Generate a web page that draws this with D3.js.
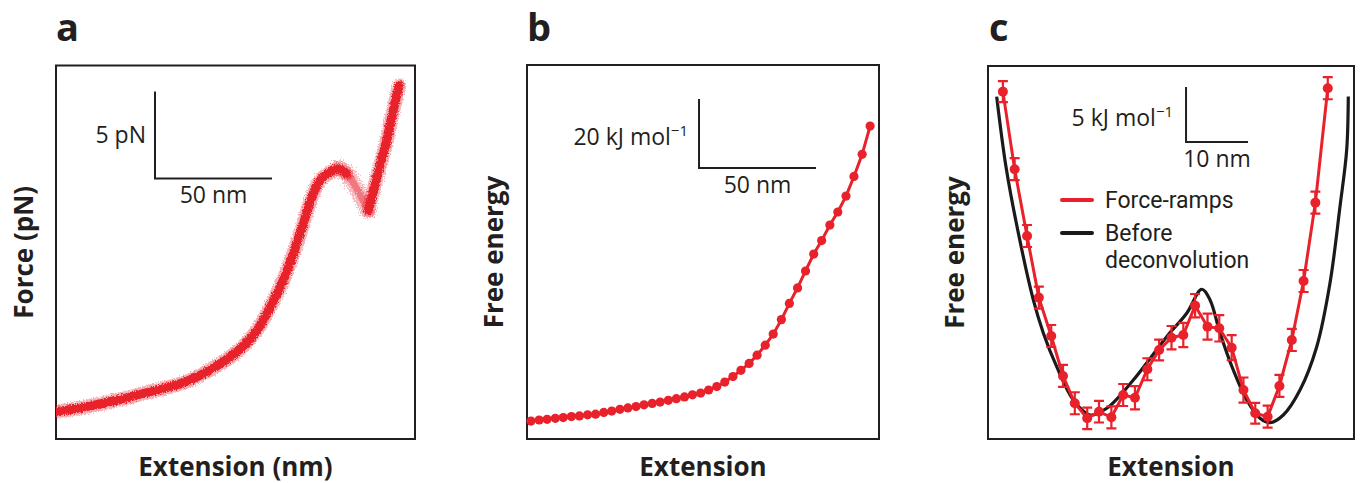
<!DOCTYPE html>
<html>
<head>
<meta charset="utf-8">
<script src="https://cdn.jsdelivr.net/npm/d3@7"></script>
<style>
  body { margin: 0; background: #fff; }
  svg text { font-family: "Open Sans", sans-serif; fill: #231f20; }
  svg text.legend { font-family: Roboto, "Open Sans", sans-serif; }
</style>
</head>
<body>
<div id="figure"></div>
<script>
// a: force-extension trace (nm, pN)
const extA   = [0.4, 11.5, 26.1, 40.2, 55.1, 67.9, 78.6, 85.9, 91.5, 97.1, 101.4, 105.7, 109.3, 112.8, 117.1, 120.6, 124.2, 128.2, 131.2, 133.5, 137.1, 141.3, 143.6, 146.6];
const forceA = [1.58, 1.82, 2.24, 2.72, 3.28, 4.14, 5.17, 6.26, 7.60, 9.14, 10.67, 12.40, 13.93, 14.89, 15.36, 15.56, 15.27, 14.48, 13.74, 13.16, 15.07, 17.18, 18.62, 20.34];
const peakIdx = 16, dipIdx = 19;   // hopping region lies between these points

// b: free energy profile (nm, kJ/mol)
const extB = [1.7, 5.2, 8.6, 12.1, 15.5, 19.0, 22.4, 25.9, 29.3, 32.8, 36.2, 39.7, 43.1, 46.6, 50.0, 53.5, 56.9, 60.4, 63.8, 67.3, 70.7, 74.2, 77.6, 81.1, 84.5, 88.0, 91.4, 94.9, 98.3, 101.8, 105.2, 108.7, 112.1, 115.6, 119.0, 122.5, 125.9, 129.4, 132.8, 136.3, 139.7, 143.2, 146.6];
const energyB = [5.2, 5.5, 5.7, 6.0, 6.2, 6.5, 6.7, 7.0, 7.2, 7.7, 8.1, 8.6, 9.0, 9.4, 9.9, 10.3, 10.7, 11.2, 11.7, 12.2, 12.8, 13.3, 14.2, 15.2, 16.5, 18.1, 19.9, 21.9, 24.3, 27.2, 30.4, 34.6, 39.3, 43.8, 48.7, 53.6, 57.5, 62.0, 65.8, 70.4, 76.1, 82.5, 90.7];

// c: deconvolved landscape with error bars, and the raw one (nm, kJ/mol)
const extC = [2.4, 4.3, 6.3, 8.2, 10.2, 12.1, 14.0, 16.0, 17.9, 19.9, 21.8, 23.7, 25.7, 27.6, 29.6, 31.5, 33.4, 35.4, 37.3, 39.3, 41.2, 43.1, 45.1, 47.0, 49.0, 50.9, 52.8, 54.8];
const energyC = [31.57, 24.52, 18.45, 12.85, 9.36, 5.73, 3.25, 1.88, 2.48, 1.97, 4.0, 3.75, 6.34, 8.09, 9.21, 9.45, 12.12, 10.21, 10.06, 8.3, 4.45, 2.34, 2.03, 4.82, 9.0, 14.36, 21.48, 31.88];
const errC = [0.95, 1.0, 1.0, 1.0, 1.0, 1.0, 1.0, 0.98, 0.98, 1.0, 1.0, 1.06, 1.0, 0.94, 1.06, 1.1, 1.06, 1.18, 1.2, 1.14, 1.14, 0.95, 1.0, 1.0, 1.0, 1.0, 1.0, 1.0];
const extRaw = [1.40, 2.90, 4.89, 7.31, 8.92, 11.08, 13.76, 16.45, 19.15, 23.44, 28.82, 32.05, 34.47, 35.81, 37.42, 39.56, 41.73, 43.87, 45.48, 47.63, 50.32, 53.02, 55.16, 56.77, 57.85, 58.11];
const energyRaw = [31.12, 24.75, 18.73, 12.64, 9.64, 6.57, 3.55, 2.18, 2.79, 5.36, 9.3, 11.43, 13.61, 12.64, 9.64, 6.27, 3.55, 1.88, 1.48, 2.18, 4.45, 8.39, 14.18, 21.12, 26.27, 31.12];

const legendLabels = [["Force-ramps"], ["Before", "deconvolution"]];

const RED = "#e8212b", INK = "#231f20";

const svg = d3.select("#figure").append("svg")
    .attr("width", 1360)
    .attr("height", 483);

// rough edges for the noisy trace
const defs = svg.append("defs");
function noiseFilter(id, freq, seed, scale) {
  const f = defs.append("filter").attr("id", id)
      .attr("x", "-30%").attr("y", "-30%").attr("width", "160%").attr("height", "160%");
  f.append("feTurbulence").attr("type", "fractalNoise").attr("baseFrequency", freq)
      .attr("numOctaves", 2).attr("seed", seed).attr("result", "n");
  f.append("feDisplacementMap").attr("in", "SourceGraphic").attr("in2", "n")
      .attr("scale", scale).attr("xChannelSelector", "R").attr("yChannelSelector", "G");
}
noiseFilter("rough", 0.9, 3, 5);
noiseFilter("scatter", 0.7, 7, 16);

function panel(p) {
  const g = svg.append("g");
  const x = d3.scaleLinear().domain(p.xDomain).range([p.left, p.right]);
  const y = d3.scaleLinear().domain(p.yDomain).range([p.bottom, p.top]);

  defs.append("clipPath").attr("id", "clip-" + p.letter)
    .append("rect")
      .attr("x", p.left).attr("y", p.top)
      .attr("width", p.right - p.left).attr("height", p.bottom - p.top);

  g.append("rect")
      .attr("x", p.left).attr("y", p.top)
      .attr("width", p.right - p.left).attr("height", p.bottom - p.top)
      .attr("fill", "none").attr("stroke", INK).attr("stroke-width", 2);

  g.append("text")
      .attr("x", p.letterX).attr("y", 41)
      .style("font-size", "38px").style("font-weight", "bold")
      .text(p.letter);

  g.append("text")
      .attr("x", (p.left + p.right) / 2).attr("y", 476)
      .attr("text-anchor", "middle")
      .style("font-size", "26px").style("font-weight", "bold")
      .text(p.xTitle);

  g.append("text")
      .attr("transform", `translate(${p.yTitleX},${(p.top + p.bottom) / 2}) rotate(-90)`)
      .attr("text-anchor", "middle")
      .style("font-size", "26px").style("font-weight", "bold")
      .text(p.yTitle);

  return { g, x, y };
}

// scale bar built from the panel's own scales
function scaleBar(g, x, y, sb) {
  const ox = x(sb.x0), oy = y(sb.y0);
  const top = y(sb.y0 + sb.dy), right = x(sb.x0 + sb.dx);
  g.append("path")
      .attr("d", `M${ox},${top}V${oy}H${right}`)
      .attr("fill", "none").attr("stroke", INK).attr("stroke-width", 2);

  const vt = g.append("text")
      .attr("x", ox - sb.gap).attr("y", (top + oy) / 2 + sb.vShift)
      .attr("text-anchor", "end")
      .style("font-size", "23px");
  vt.append("tspan").text(sb.yLabel);
  if (sb.sup) {
    vt.append("tspan").attr("dy", -9).style("font-size", "15px").text(sb.sup);
  }

  g.append("text")
      .attr("x", (ox + right) / 2).attr("y", oy + 25)
      .attr("text-anchor", "middle")
      .style("font-size", "23px")
      .text(sb.xLabel);
}

// ---- a ----
{
  const { g, x, y } = panel({
    left: 56, right: 415, top: 65.5, bottom: 439,
    xDomain: [0, 153.4], yDomain: [0, 21.5],
    letter: "a", letterX: 56, xTitle: "Extension (nm)", yTitle: "Force (pN)", yTitleX: 33
  });
  const pts = extA.map((d, i) => [d, forceA[i]]);
  const line = d3.line().x(d => x(d[0])).y(d => y(d[1])).curve(d3.curveCatmullRom.alpha(0.5));
  const stretch = pts.slice(0, peakIdx + 1);
  const hop = pts.slice(peakIdx - 1, dipIdx + 1);
  const rise = pts.slice(dipIdx);

  const trace = g.append("g").attr("clip-path", "url(#clip-a)");

  // scattered cloud of the hopping region
  trace.append("path")
      .attr("d", line(hop))
      .attr("fill", "none").attr("stroke", RED).attr("stroke-width", 16)
      .attr("stroke-opacity", 0.3).attr("stroke-linecap", "round")
      .attr("filter", "url(#scatter)");
  trace.append("path")
      .attr("d", line(hop))
      .attr("fill", "none").attr("stroke", RED).attr("stroke-width", 7)
      .attr("stroke-opacity", 0.45).attr("stroke-linecap", "round")
      .attr("filter", "url(#rough)");

  // solid branches: a fuzzy halo under a dense core
  [stretch, rise].forEach(seg => {
    trace.append("path")
        .attr("d", line(seg))
        .attr("fill", "none").attr("stroke", RED).attr("stroke-width", 14)
        .attr("stroke-opacity", 0.35).attr("stroke-linecap", "round")
        .attr("filter", "url(#rough)");
    trace.append("path")
        .attr("d", line(seg))
        .attr("fill", "none").attr("stroke", RED).attr("stroke-width", 9)
        .attr("stroke-linecap", "round")
        .attr("filter", "url(#rough)");
  });

  scaleBar(g, x, y, { x0: 42.3, y0: 15.0, dx: 50, dy: 5, gap: 9, vShift: 8,
                      yLabel: "5 pN", xLabel: "50 nm" });
}

// ---- b ----
{
  const { g, x, y } = panel({
    left: 527, right: 879, top: 65, bottom: 439,
    xDomain: [0, 150.4], yDomain: [0, 108.4],
    letter: "b", letterX: 527, xTitle: "Extension", yTitle: "Free energy", yTitleX: 503
  });
  const pts = extB.map((d, i) => [d, energyB[i]]);
  g.append("path")
      .attr("d", d3.line().x(d => x(d[0])).y(d => y(d[1]))(pts))
      .attr("fill", "none").attr("stroke", RED).attr("stroke-width", 3);
  g.append("g").selectAll("circle")
    .data(pts)
    .join("circle")
      .attr("cx", d => x(d[0])).attr("cy", d => y(d[1]))
      .attr("r", 4.6).attr("fill", RED);

  scaleBar(g, x, y, { x0: 73.5, y0: 78.55, dx: 50, dy: 20, gap: 11, vShift: 12,
                      yLabel: "20 kJ mol", sup: "\u22121", xLabel: "50 nm" });
}

// ---- c ----
{
  const { g, x, y } = panel({
    left: 988, right: 1354, top: 66, bottom: 439,
    xDomain: [0, 59.03], yDomain: [0, 33.9],
    letter: "c", letterX: 989, xTitle: "Extension", yTitle: "Free energy", yTitleX: 964
  });

  const raw = extRaw.map((d, i) => [d, energyRaw[i]]);
  g.append("path")
      .attr("d", d3.line().x(d => x(d[0])).y(d => y(d[1])).curve(d3.curveCatmullRom.alpha(0.5))(raw))
      .attr("fill", "none").attr("stroke", "#1a1a1a").attr("stroke-width", 3.2);

  const pts = extC.map((d, i) => ({ x: d, y: energyC[i], e: errC[i] }));
  g.append("path")
      .attr("d", d3.line().x(d => x(d.x)).y(d => y(d.y))(pts))
      .attr("fill", "none").attr("stroke", RED).attr("stroke-width", 3);

  const bars = g.append("g").selectAll("g")
    .data(pts)
    .join("g");
  bars.append("path")
      .attr("d", d => {
        const cx = x(d.x), t = y(d.y + d.e), b = y(d.y - d.e);
        return `M${cx},${t}V${b}M${cx - 5},${t}H${cx + 5}M${cx - 5},${b}H${cx + 5}`;
      })
      .attr("fill", "none").attr("stroke", RED).attr("stroke-width", 2.2);
  bars.append("circle")
      .attr("cx", d => x(d.x)).attr("cy", d => y(d.y))
      .attr("r", 5).attr("fill", RED);

  scaleBar(g, x, y, { x0: 31.94, y0: 27.0, dx: 10, dy: 5, gap: 13, vShift: 11.5,
                      yLabel: "5 kJ mol", sup: "\u22121", xLabel: "10 nm" });

  // legend (Roboto: tighter line box, so the two-line label stacks at 27px)
  const colors = [RED, "#1a1a1a"];
  const lg = g.append("g").attr("transform", "translate(1062,200)");
  legendLabels.forEach((lines, i) => {
    const row = lg.append("g").attr("transform", `translate(0,${i * 33})`);
    row.append("line")
        .attr("x1", 0).attr("x2", 30)
        .attr("stroke", colors[i]).attr("stroke-width", 4).attr("stroke-linecap", "round");
    lines.forEach((s, j) => {
      row.append("text")
          .attr("class", "legend")
          .attr("x", 43).attr("y", 7.5 + j * 27)
          .style("font-size", "23px")
          .text(s);
    });
  });
}
</script>
</body>
</html>
